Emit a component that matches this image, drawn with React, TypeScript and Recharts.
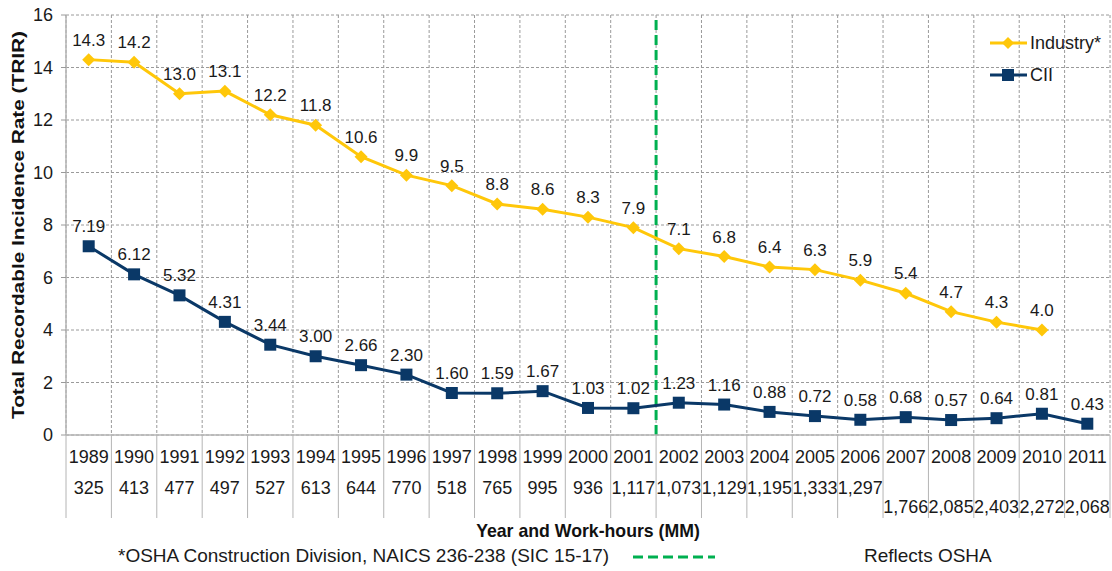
import {
  LineChart,
  Line,
  XAxis,
  YAxis,
  CartesianGrid,
  ReferenceLine,
  LabelList,
} from 'recharts';

const years = ['1989', '1990', '1991', '1992', '1993', '1994', '1995', '1996', '1997', '1998', '1999', '2000', '2001', '2002', '2003', '2004', '2005', '2006', '2007', '2008', '2009', '2010', '2011'];
const industryRate = [14.3, 14.2, 13.0, 13.1, 12.2, 11.8, 10.6, 9.9, 9.5, 8.8, 8.6, 8.3, 7.9, 7.1, 6.8, 6.4, 6.3, 5.9, 5.4, 4.7, 4.3, 4.0, null];
const ciiRate = [7.19, 6.12, 5.32, 4.31, 3.44, 3.0, 2.66, 2.3, 1.6, 1.59, 1.67, 1.03, 1.02, 1.23, 1.16, 0.88, 0.72, 0.58, 0.68, 0.57, 0.64, 0.81, 0.43];
const workHours = ['325', '413', '477', '497', '527', '613', '644', '770', '518', '765', '995', '936', '1,117', '1,073', '1,129', '1,195', '1,333', '1,297', '1,766', '2,085', '2,403', '2,272', '2,068'];
const yTicks = [0, 2, 4, 6, 8, 10, 12, 14, 16];
// work-hours from this year on sit one row lower in the original table
const LOWER_ROW_FROM = 2007;
// OSHA change happened between 2001 and 2002
const OSHA_BREAK = 12.5;

const YELLOW = '#FFC709';
const NAVY = '#0A3867';
const GREEN = '#00B050';
const GRID = '#9a9a9a';
const FONT = '"Liberation Sans", Arial, sans-serif';

const rows = years.map((year, i) => ({
  idx: i,
  year,
  industry: industryRate[i],
  cii: ciiRate[i],
  hours: workHours[i],
}));

const centerTicks = years.map((_, i) => i);
const boundaryTicks = [...years.map((_, i) => i - 0.5), years.length - 0.5];
const tableTicks = [...boundaryTicks, ...centerTicks].sort((a, b) => a - b);

function TableTick({ x, y, payload }: any) {
  const v = payload.value as number;
  if (!Number.isInteger(v)) {
    return <line x1={x} x2={x} y1={y} y2={y + 83} stroke="#b4b4b4" strokeWidth={1} />;
  }
  const row = rows[v];
  const lower = Number(row.year) >= LOWER_ROW_FROM;
  return (
    <g fontFamily={FONT} fontSize={18} fill="#1a1a1a">
      <text x={x} y={y + 28} textAnchor="middle">{row.year}</text>
      <text x={x} y={y + (lower ? 78 : 59)} textAnchor="middle">{row.hours}</text>
    </g>
  );
}

function Diamond({ cx, cy }: any) {
  if (cx == null || cy == null) return null;
  return <polygon points={`${cx},${cy - 6.5} ${cx + 6.5},${cy} ${cx},${cy + 6.5} ${cx - 6.5},${cy}`} fill={YELLOW} />;
}

function Square({ cx, cy }: any) {
  if (cx == null || cy == null) return null;
  return <rect x={cx - 6} y={cy - 6} width={12} height={12} fill={NAVY} />;
}

function YTitle({ viewBox }: any) {
  const cx = viewBox.x + 18;
  const cy = viewBox.y + viewBox.height / 2;
  return (
    <text
      x={cx}
      y={cy}
      transform={`rotate(-90 ${cx} ${cy})`}
      textAnchor="middle"
      dominantBaseline="central"
      fontFamily={FONT}
      fontWeight="bold"
      fontSize={16}
      textLength={388}
      lengthAdjust="spacingAndGlyphs"
      fill="#111"
    >
      Total Recordable Incidence Rate (TRIR)
    </text>
  );
}

const legendItems = [
  { name: 'Industry*', color: YELLOW, shape: 'diamond' },
  { name: 'CII', color: NAVY, shape: 'square' },
];

function LegendBox() {
  return (
    <div style={{ position: 'absolute', left: 989, top: 27, fontFamily: FONT, fontSize: 18, color: '#1a1a1a' }}>
      {legendItems.map((it) => (
        <div key={it.name} style={{ display: 'flex', alignItems: 'center', height: 32 }}>
          <svg width={40} height={14} style={{ marginRight: 1 }}>
            <line x1={1} x2={38} y1={7} y2={7} stroke={it.color} strokeWidth={3} />
            {it.shape === 'diamond' ? (
              <polygon points="19,1 25,7 19,13 13,7" fill={it.color} />
            ) : (
              <rect x={13} y={1} width={12} height={12} fill={it.color} />
            )}
          </svg>
          <span>{it.name}</span>
        </div>
      ))}
    </div>
  );
}

export default function App() {
  return (
    <div style={{ position: 'absolute', left: 0, top: 0, width: 1112, height: 571, background: '#fff' }}>
      <LineChart width={1112} height={571} data={rows} margin={{ top: 15, right: 2, left: 0, bottom: 0 }}>
        <CartesianGrid xAxisId="grid" strokeDasharray="3 2" stroke={GRID} />
        <XAxis
          xAxisId="grid"
          dataKey="idx"
          type="number"
          domain={[-0.5, years.length - 0.5]}
          ticks={boundaryTicks}
          hide
        />
        <XAxis
          dataKey="idx"
          type="number"
          domain={[-0.5, years.length - 0.5]}
          ticks={tableTicks}
          interval={0}
          tickLine={false}
          tickSize={0}
          tickMargin={0}
          tick={<TableTick />}
          height={136}
          axisLine={{ stroke: '#b4b4b4', strokeWidth: 1.5 }}
          label={{
            value: 'Year and Work-hours (MM)',
            position: 'insideBottom',
            offset: 34,
            style: { fontFamily: FONT, fontWeight: 'bold', fontSize: 17.7, fill: '#111' },
          }}
        />
        <YAxis
          domain={[0, 16]}
          ticks={yTicks}
          width={66}
          tickSize={5}
          tickMargin={8}
          tickLine={{ stroke: GRID }}
          axisLine={{ stroke: '#b4b4b4', strokeWidth: 1.5 }}
          tick={{ fontFamily: FONT, fontSize: 18, fill: '#1a1a1a' }}
          label={{ content: <YTitle /> }}
        />
        <ReferenceLine x={OSHA_BREAK} stroke={GREEN} strokeWidth={3} strokeDasharray="10 5" />
        <Line
          dataKey="industry"
          name="Industry*"
          stroke={YELLOW}
          strokeWidth={3}
          dot={<Diamond />}
          activeDot={false}
          isAnimationActive={false}
        >
          <LabelList
            dataKey="industry"
            position="top"
            offset={14}
            formatter={(v: any) => (v == null ? '' : Number(v).toFixed(1))}
            style={{ fontFamily: FONT, fontSize: 17, fill: '#1a1a1a' }}
          />
        </Line>
        <Line
          dataKey="cii"
          name="CII"
          stroke={NAVY}
          strokeWidth={3}
          dot={<Square />}
          activeDot={false}
          isAnimationActive={false}
        >
          <LabelList
            dataKey="cii"
            position="top"
            offset={14}
            formatter={(v: any) => (v == null ? '' : Number(v).toFixed(2))}
            style={{ fontFamily: FONT, fontSize: 17, fill: '#1a1a1a' }}
          />
        </Line>
      </LineChart>
      <LegendBox />
      <div
        style={{
          position: 'absolute',
          top: 545,
          left: 0,
          width: 1112,
          height: 24,
          fontFamily: FONT,
          fontSize: 19,
          color: '#1a1a1a',
        }}
      >
        <span style={{ position: 'absolute', left: 118, top: 0 }}>*OSHA Construction Division, NAICS 236-238 (SIC 15-17)</span>
        <svg style={{ position: 'absolute', left: 633, top: 10 }} width={82} height={4}>
          <line x1={0} x2={82} y1={2} y2={2} stroke={GREEN} strokeWidth={3} strokeDasharray="10 5" />
        </svg>
        <span style={{ position: 'absolute', left: 864, top: 0 }}>Reflects OSHA</span>
      </div>
    </div>
  );
}
